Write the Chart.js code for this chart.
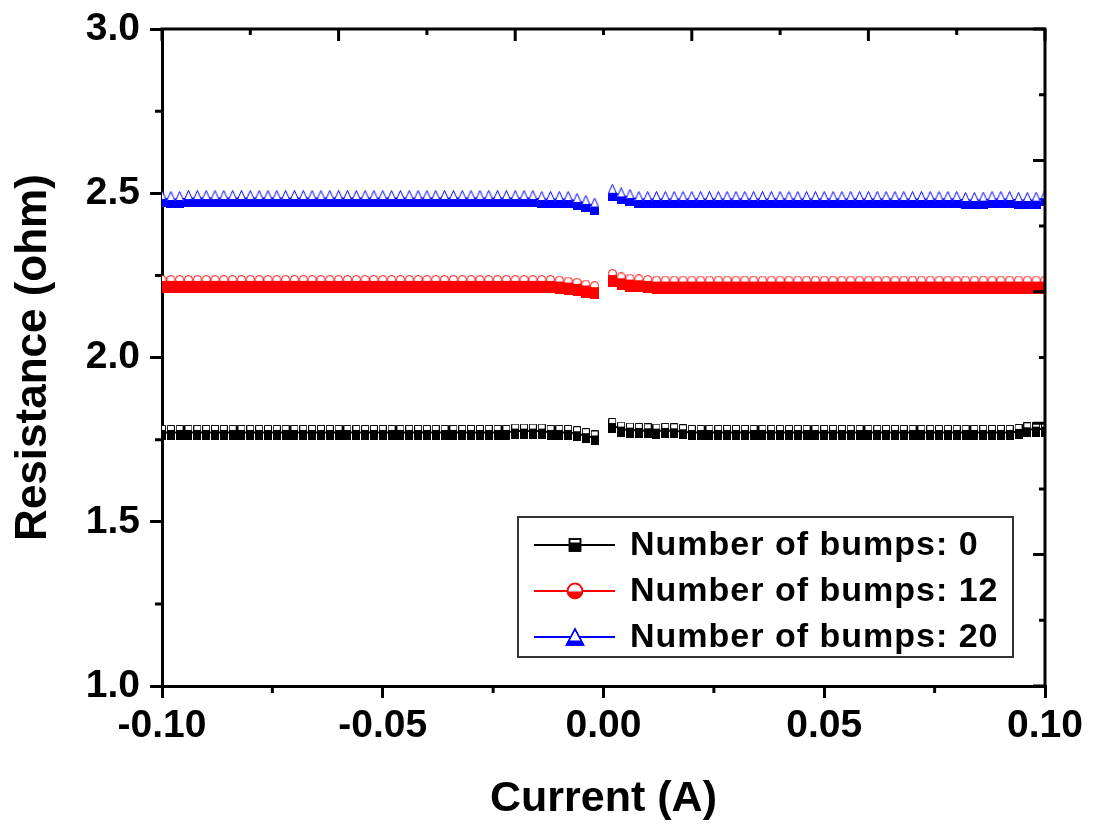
<!DOCTYPE html>
<html>
<head>
<meta charset="utf-8">
<script src="https://cdn.jsdelivr.net/npm/chart.js@4"></script>
<style>
  body { margin: 0; background: #fff; }
</style>
</head>
<body>
<canvas id="chart" width="1094" height="827"></canvas>
<script>
// Data
const currents = [
  -0.100, -0.098, -0.096, -0.094, -0.092, -0.090, -0.088, -0.086, -0.084, -0.082,
  -0.080, -0.078, -0.076, -0.074, -0.072, -0.070, -0.068, -0.066, -0.064, -0.062,
  -0.060, -0.058, -0.056, -0.054, -0.052, -0.050, -0.048, -0.046, -0.044, -0.042,
  -0.040, -0.038, -0.036, -0.034, -0.032, -0.030, -0.028, -0.026, -0.024, -0.022,
  -0.020, -0.018, -0.016, -0.014, -0.012, -0.010, -0.008, -0.006, -0.004, -0.002,
  0,
  0.002, 0.004, 0.006, 0.008, 0.010, 0.012, 0.014, 0.016, 0.018, 0.020,
  0.022, 0.024, 0.026, 0.028, 0.030, 0.032, 0.034, 0.036, 0.038, 0.040,
  0.042, 0.044, 0.046, 0.048, 0.050, 0.052, 0.054, 0.056, 0.058, 0.060,
  0.062, 0.064, 0.066, 0.068, 0.070, 0.072, 0.074, 0.076, 0.078, 0.080,
  0.082, 0.084, 0.086, 0.088, 0.090, 0.092, 0.094, 0.096, 0.098, 0.100
];

const bumps0 = [
  1.772, 1.772, 1.772, 1.772, 1.772, 1.772, 1.772, 1.772, 1.772, 1.772,
  1.772, 1.772, 1.772, 1.772, 1.772, 1.772, 1.772, 1.772, 1.772, 1.772,
  1.772, 1.772, 1.772, 1.772, 1.772, 1.772, 1.772, 1.772, 1.772, 1.772,
  1.772, 1.772, 1.772, 1.772, 1.772, 1.772, 1.772, 1.772, 1.772, 1.772,
  1.776, 1.776, 1.776, 1.776, 1.772, 1.772, 1.772, 1.768, 1.762, 1.755,
  null,
  1.793, 1.782, 1.779, 1.778, 1.777, 1.776, 1.778, 1.777, 1.774, 1.772,
  1.772, 1.772, 1.772, 1.772, 1.772, 1.772, 1.772, 1.772, 1.772, 1.772,
  1.772, 1.772, 1.772, 1.772, 1.772, 1.772, 1.772, 1.772, 1.772, 1.772,
  1.772, 1.772, 1.772, 1.772, 1.772, 1.772, 1.772, 1.772, 1.772, 1.772,
  1.772, 1.772, 1.772, 1.772, 1.772, 1.772, 1.775, 1.780, 1.782, 1.782
];

const bumps12 = [
  2.224, 2.224, 2.224, 2.224, 2.224, 2.224, 2.224, 2.224, 2.224, 2.224,
  2.224, 2.224, 2.224, 2.224, 2.224, 2.224, 2.224, 2.224, 2.224, 2.224,
  2.224, 2.224, 2.224, 2.224, 2.224, 2.224, 2.224, 2.224, 2.224, 2.224,
  2.224, 2.224, 2.224, 2.224, 2.224, 2.224, 2.224, 2.224, 2.224, 2.224,
  2.224, 2.224, 2.224, 2.224, 2.224, 2.222, 2.219, 2.215, 2.210, 2.205,
  null,
  2.242, 2.232, 2.228, 2.226, 2.224, 2.222, 2.222, 2.222, 2.222, 2.222,
  2.222, 2.222, 2.222, 2.222, 2.222, 2.222, 2.222, 2.222, 2.222, 2.222,
  2.222, 2.222, 2.222, 2.222, 2.222, 2.222, 2.222, 2.222, 2.222, 2.222,
  2.222, 2.222, 2.222, 2.222, 2.222, 2.222, 2.222, 2.222, 2.222, 2.222,
  2.222, 2.222, 2.222, 2.222, 2.222, 2.222, 2.222, 2.222, 2.222, 2.222
];

const bumps20 = [
  2.484, 2.481, 2.481, 2.484, 2.484, 2.484, 2.484, 2.484, 2.484, 2.484,
  2.484, 2.484, 2.484, 2.484, 2.484, 2.484, 2.484, 2.484, 2.484, 2.484,
  2.484, 2.484, 2.484, 2.484, 2.484, 2.484, 2.484, 2.484, 2.484, 2.484,
  2.484, 2.484, 2.484, 2.484, 2.484, 2.484, 2.484, 2.484, 2.484, 2.484,
  2.484, 2.484, 2.484, 2.481, 2.481, 2.481, 2.481, 2.475, 2.469, 2.461,
  null,
  2.503, 2.492, 2.487, 2.481, 2.481, 2.481, 2.481, 2.481, 2.481, 2.481,
  2.481, 2.481, 2.481, 2.481, 2.481, 2.481, 2.481, 2.481, 2.481, 2.481,
  2.481, 2.481, 2.481, 2.481, 2.481, 2.481, 2.481, 2.481, 2.481, 2.481,
  2.481, 2.481, 2.481, 2.481, 2.481, 2.481, 2.481, 2.481, 2.481, 2.481,
  2.478, 2.478, 2.479, 2.481, 2.481, 2.481, 2.478, 2.478, 2.479, 2.486
];

const seriesLabels = ["Number of bumps: 0", "Number of bumps: 12", "Number of bumps: 20"];

// Tick positions
const xTicks = [-0.10, -0.05, 0.00, 0.05, 0.10];
const xMinorTicks = [-0.075, -0.025, 0.025, 0.075];
const yTicks = [1.0, 1.5, 2.0, 2.5, 3.0];
const yMinorTicks = [1.25, 1.75, 2.25, 2.75];
const topTicks = [-0.10, -0.06, -0.02, 0.02, 0.06, 0.10];
const topMinorTicks = [-0.08, -0.04, 0.00, 0.04, 0.08];
const rightTicks = [1.0, 1.4, 1.8, 2.2, 2.6, 3.0];
const rightMinorTicks = [1.2, 1.6, 2.0, 2.4, 2.8];

const FONT = "'Liberation Sans', Arial, sans-serif";

// half-open markers: outlined top, filled bottom (plus the dense band under them)
function shapePath(g, shape, cx, top, w, sh) {
  g.beginPath();
  if (shape === 'rect') {
    g.rect(cx - w / 2 + 0.5, top + 0.5, w - 1, sh - 1);
  } else if (shape === 'circle') {
    g.arc(cx, top + sh / 2, w / 2 - 0.5, 0, Math.PI * 2);
  } else {
    g.moveTo(cx, top + 0.5);
    g.lineTo(cx + w / 2 - 0.5, top + sh - 0.5);
    g.lineTo(cx - w / 2 + 0.5, top + sh - 0.5);
    g.closePath();
  }
}

function plotMarker(shape, color, w, h, sh, split) {
  const c = document.createElement('canvas');
  c.width = w; c.height = h;
  const g = c.getContext('2d');
  g.lineWidth = 1;
  g.strokeStyle = color;
  g.fillStyle = '#fff';
  shapePath(g, shape, w / 2, 0, w, sh);
  g.fill();
  g.stroke();
  g.fillStyle = color;
  g.fillRect(0, split, w, h - split);
  return c;
}

function legendMarker(g, shape, color, cx, cy, w, sh, split) {
  const top = cy - sh / 2;
  g.save();
  g.lineWidth = 1.5;
  g.strokeStyle = color;
  g.fillStyle = '#fff';
  shapePath(g, shape, cx, top, w, sh);
  g.fill();
  g.stroke();
  g.clip();
  g.fillStyle = color;
  g.fillRect(cx - w / 2 - 2, top + split, w + 4, sh);
  g.restore();
  g.save();
  g.lineWidth = 1.5;
  g.strokeStyle = color;
  shapePath(g, shape, cx, top, w, sh);
  g.stroke();
  g.restore();
}

const squareImg = plotMarker('rect', '#000', 8, 15, 8, 5);
const circleImg = plotMarker('circle', '#ff0000', 9, 18, 9, 6);
const triangleImg = plotMarker('tri', '#0000ff', 9, 17, 10, 10);

const seriesColors = ['#000000', '#ff0000', '#0000ff'];
const seriesShapes = ['rect', 'circle', 'tri'];

function toPoints(values) {
  return currents.map((c, i) => ({ x: c, y: values[i] }));
}

// minor ticks and the top / right frame
const framePlugin = {
  id: 'frame',
  afterDraw(chart) {
    const { ctx, chartArea: a, scales: { x, y } } = chart;
    ctx.save();
    ctx.strokeStyle = '#000';
    ctx.lineWidth = 3;
    ctx.beginPath();
    ctx.moveTo(a.left - 1.5, a.top);
    ctx.lineTo(a.right, a.top);
    ctx.lineTo(a.right, a.bottom + 1.5);
    ctx.stroke();

    ctx.beginPath();
    xMinorTicks.forEach(v => {
      const px = x.getPixelForValue(v);
      ctx.moveTo(px, a.bottom); ctx.lineTo(px, a.bottom + 7);
    });
    yMinorTicks.forEach(v => {
      const py = y.getPixelForValue(v);
      ctx.moveTo(a.left, py); ctx.lineTo(a.left - 7, py);
    });
    topTicks.forEach(v => {
      const px = x.getPixelForValue(v);
      ctx.moveTo(px, a.top); ctx.lineTo(px, a.top + 12);
    });
    topMinorTicks.forEach(v => {
      const px = x.getPixelForValue(v);
      ctx.moveTo(px, a.top); ctx.lineTo(px, a.top + 6);
    });
    rightTicks.forEach(v => {
      const py = y.getPixelForValue(v);
      ctx.moveTo(a.right, py); ctx.lineTo(a.right - 12, py);
    });
    rightMinorTicks.forEach(v => {
      const py = y.getPixelForValue(v);
      ctx.moveTo(a.right, py); ctx.lineTo(a.right - 6, py);
    });
    ctx.stroke();
    ctx.restore();
  }
};

// boxed legend inside the plot, lower right
const legendPlugin = {
  id: 'boxLegend',
  afterDraw(chart) {
    const { ctx, chartArea: a } = chart;
    const right = a.right - 32, bottom = a.bottom - 29;
    const left = right - 495, top = bottom - 140;
    ctx.save();
    ctx.fillStyle = '#fff';
    ctx.fillRect(left, top, right - left, bottom - top);
    ctx.strokeStyle = '#333';
    ctx.lineWidth = 2;
    ctx.strokeRect(left, top, right - left, bottom - top);

    const legendSizes = [[12, 13, 4], [16, 15, 8], [18, 17, 12]];
    chart.data.datasets.forEach((ds, i) => {
      const cy = top + 28 + i * 46;
      ctx.strokeStyle = ds.borderColor;
      ctx.lineWidth = 2;
      ctx.beginPath();
      ctx.moveTo(left + 16, cy);
      ctx.lineTo(left + 97, cy);
      ctx.stroke();
      const [w, sh, split] = legendSizes[i];
      legendMarker(ctx, seriesShapes[i], ds.borderColor, left + 57, cy, w, sh, split);
      ctx.fillStyle = '#000';
      ctx.font = 'bold 34px ' + FONT;
      ctx.letterSpacing = '1px';
      ctx.textBaseline = 'middle';
      ctx.textAlign = 'left';
      ctx.fillText(ds.label, left + 112, cy + 1);
    });
    ctx.restore();
  }
};

const tickFont = { family: FONT, size: 39, weight: 'bold' };

new Chart(document.getElementById('chart'), {
  type: 'line',
  data: {
    datasets: [
      { label: seriesLabels[0], data: toPoints(bumps0), borderColor: seriesColors[0], backgroundColor: seriesColors[0],
        borderWidth: 2, pointStyle: squareImg, pointRadius: 4, spanGaps: false, clip: 0 },
      { label: seriesLabels[1], data: toPoints(bumps12), borderColor: seriesColors[1], backgroundColor: seriesColors[1],
        borderWidth: 2, pointStyle: circleImg, pointRadius: 4, spanGaps: false, clip: 0 },
      { label: seriesLabels[2], data: toPoints(bumps20), borderColor: seriesColors[2], backgroundColor: seriesColors[2],
        borderWidth: 2, pointStyle: triangleImg, pointRadius: 4, spanGaps: false, clip: 0 }
    ]
  },
  options: {
    responsive: false,
    animation: false,
    devicePixelRatio: 1,
    layout: { padding: 0 },
    plugins: { legend: { display: false }, tooltip: { enabled: false } },
    scales: {
      x: {
        type: 'linear',
        min: -0.1,
        max: 0.1,
        afterBuildTicks: s => { s.ticks = xTicks.map(v => ({ value: v })); },
        afterFit: s => { s.height = 141; s.paddingLeft = 0; s.paddingRight = 49; },
        ticks: { callback: v => v.toFixed(2), font: tickFont, color: '#000', padding: 5, maxRotation: 0, autoSkip: false },
        grid: { drawOnChartArea: false, drawTicks: true, tickLength: 12, lineWidth: 3, color: '#000' },
        border: { display: true, width: 3, color: '#000' },
        title: { display: true, text: 'Current (A)', color: '#000',
                 font: { family: FONT, size: 43, weight: 'bold' }, padding: { top: 0, bottom: 2 } }
      },
      y: {
        min: 1.0,
        max: 3.0,
        afterBuildTicks: s => { s.ticks = yTicks.map(v => ({ value: v })); },
        afterFit: s => { s.width = 162; s.paddingTop = 29; s.paddingBottom = 0; },
        ticks: { callback: v => v.toFixed(1), font: tickFont, color: '#000', padding: 10, autoSkip: false },
        grid: { drawOnChartArea: false, drawTicks: true, tickLength: 12, lineWidth: 3, color: '#000' },
        border: { display: true, width: 3, color: '#000' },
        title: { display: true, text: 'Resistance (ohm)', color: '#000',
                 font: { family: FONT, size: 44, weight: 'bold' }, padding: { top: 7, bottom: 0 } }
      }
    }
  },
  plugins: [framePlugin, legendPlugin]
});
</script>
</body>
</html>
